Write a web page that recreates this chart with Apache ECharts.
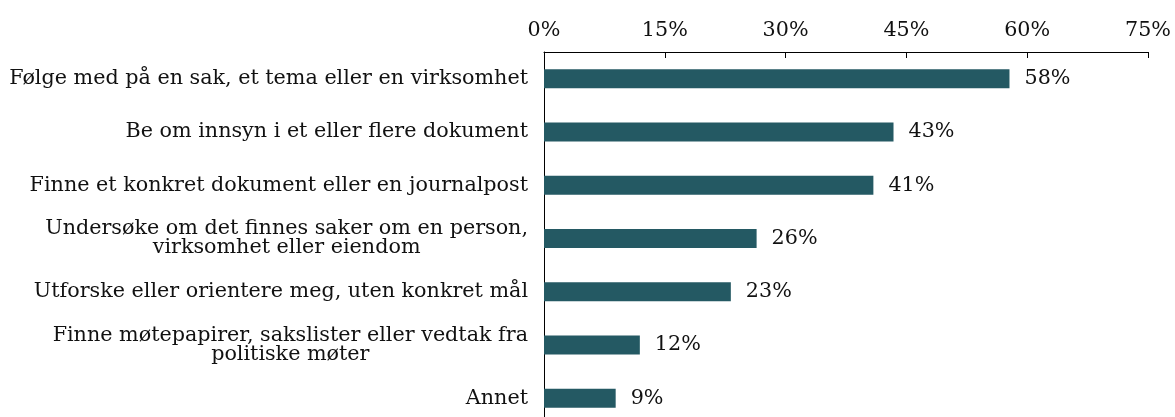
<!DOCTYPE html>
<html>
<head>
<meta charset="utf-8">
<script src="https://cdn.jsdelivr.net/npm/echarts@6/dist/echarts.min.js"></script>
<style>
  html, body { margin: 0; padding: 0; background: #fff; }
  #main { width: 1175px; height: 417px; }
</style>
</head>
<body>
<div id="main"></div>
<script>
// categories, top to bottom
const categories = [
    'Følge med på en sak, et tema eller en virksomhet',
    'Be om innsyn i et eller flere dokument',
    'Finne et konkret dokument eller en journalpost',
    'Undersøke om det finnes saker om en person,\nvirksomhet eller eiendom',
    'Utforske eller orientere meg, uten konkret mål',
    'Finne møtepapirer, sakslister eller vedtak fra\npolitiske møter',
    'Annet'
]
// share in percent
const values = [57.8, 43.4, 40.9, 26.4, 23.2, 11.9, 8.9]
const tickLabels = ['0%', '15%', '30%', '45%', '60%', '75%']

const font = 'DejaVu Serif'
const fontSize = 20.7
const chart = echarts.init(document.getElementById('main'))
chart.setOption({
    animation: false,
    textStyle: { fontFamily: font },
    grid: { left: 544, right: 27, top: 52, height: 373, outerBoundsMode: 'none', containLabel: false },
    xAxis: {
        type: 'value',
        position: 'top',
        min: 0,
        max: 75,
        interval: 15,
        axisLine: { show: true, lineStyle: { color: '#000', width: 1 } },
        axisTick: { show: true, inside: true, length: 6, lineStyle: { color: '#000' } },
        splitLine: { show: false },
        axisLabel: {
            color: '#111',
            fontFamily: font,
            fontSize: fontSize,
            margin: 11,
            formatter: (v) => tickLabels[Math.round(v / 15)]
        }
    },
    yAxis: {
        type: 'category',
        inverse: true,
        data: categories,
        axisLine: { show: true, lineStyle: { color: '#000', width: 1 } },
        axisTick: { show: false },
        axisLabel: {
            color: '#111',
            fontFamily: font,
            fontSize: fontSize,
            margin: 16,
            align: 'right',
            lineHeight: 19,
            // centre the lines of a two-line label inside its block
            formatter: (v) => v.split('\n').map((s) => '{c|' + s + '}').join('\n'),
            rich: {
                c: { align: 'center', fontFamily: font, fontSize: fontSize, lineHeight: 19, color: '#111' }
            }
        }
    },
    series: [{
        type: 'bar',
        data: values,
        barWidth: 19,
        itemStyle: { color: '#245963' },
        label: {
            show: true,
            position: 'right',
            distance: 15,
            color: '#111',
            fontFamily: font,
            fontSize: fontSize,
            formatter: (p) => Math.round(p.value) + '%'
        }
    }]
})
</script>
</body>
</html>
